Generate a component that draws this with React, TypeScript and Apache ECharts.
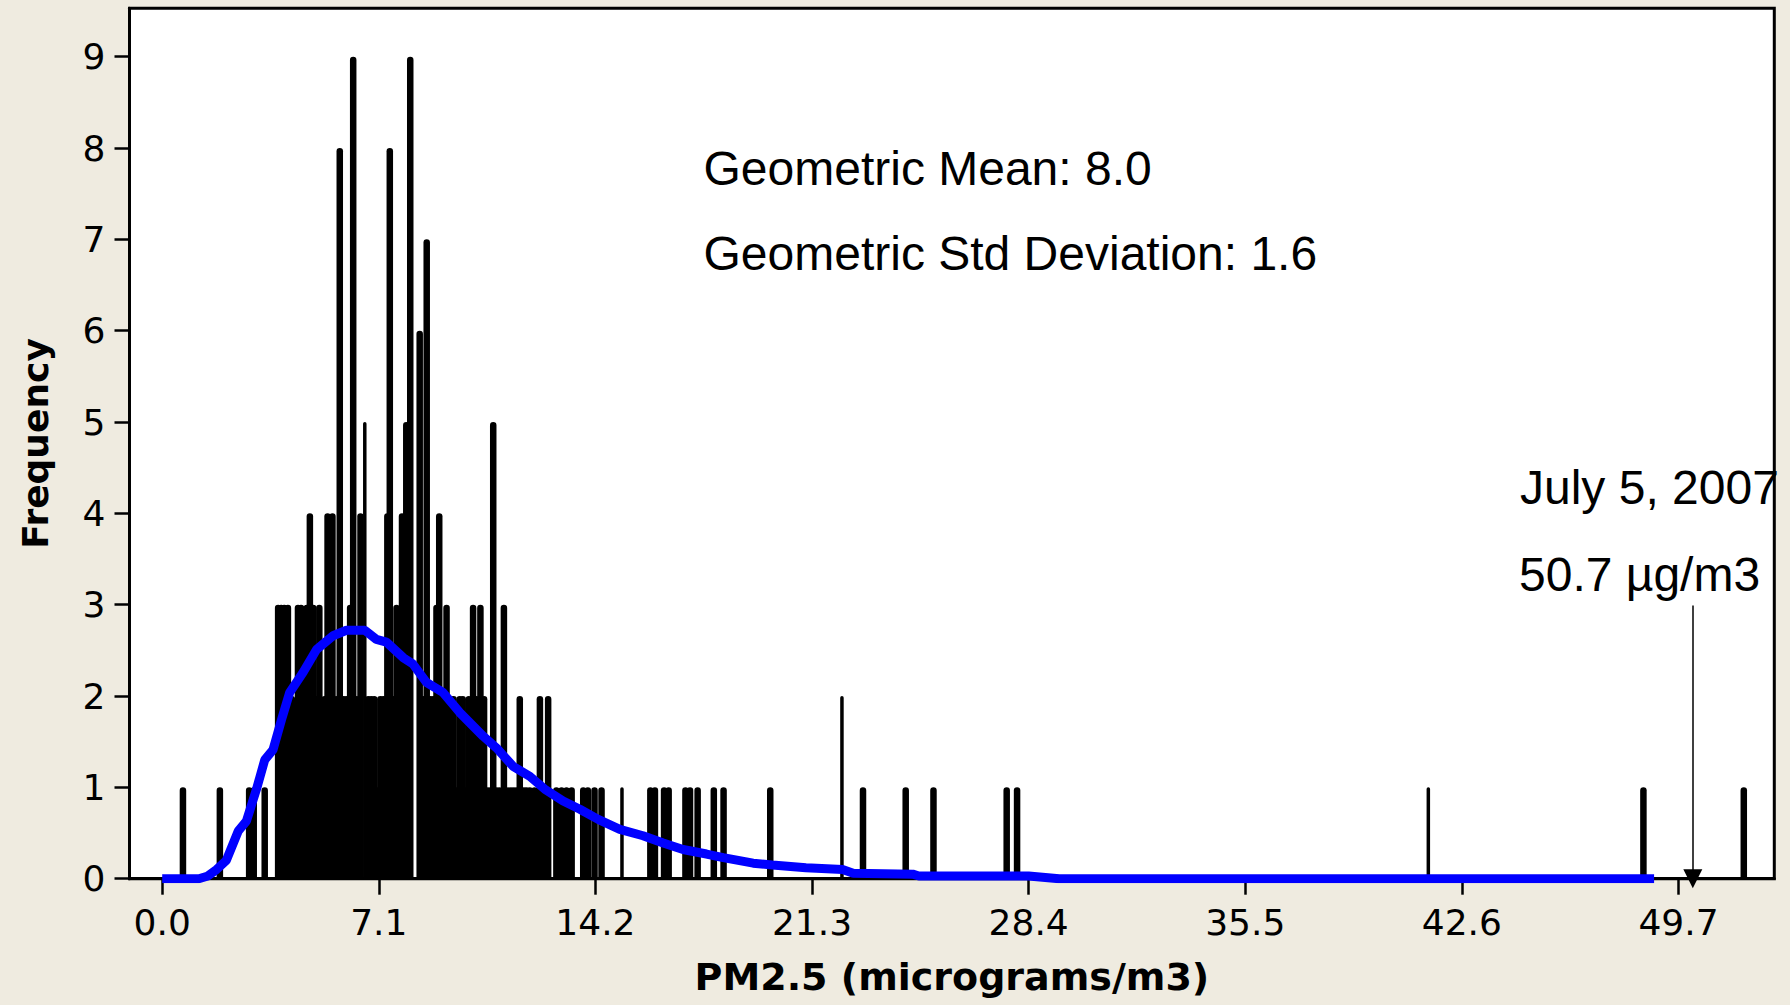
import React, { useEffect, useRef } from "react";
import * as echarts from "echarts";

// ---- data ----
const xTickValues = [0, 7.1, 14.2, 21.3, 28.4, 35.5, 42.6, 49.7];
const yTickValues = [0, 1, 2, 3, 4, 5, 6, 7, 8, 9];

// PM2.5 values (µg/m3) and how often each occurred (wide bars)
const pmValues = [
  0.68, 1.89, 2.85, 3.0, 3.36, 3.8, 3.9, 4.0, 4.12, 4.25, 4.35, 4.45, 4.55, 4.65, 4.74, 4.84, 4.95,
  5.05, 5.15, 5.25, 5.32, 5.42, 5.58, 5.7, 5.82, 5.95, 6.05, 6.16, 6.26, 6.38, 6.5, 6.75, 6.85,
  6.95, 7.05, 7.15, 7.25, 7.38, 7.46, 7.57, 7.68, 7.78, 7.86, 8.0, 8.13, 8.44, 8.55, 8.67, 8.78,
  8.88, 8.99, 9.08, 9.18, 9.32, 9.45, 9.55, 9.65, 9.75, 9.85, 9.95, 10.05, 10.19, 10.3, 10.43,
  10.55, 10.65, 10.75, 10.85, 10.95, 11.05, 11.2, 11.3, 11.4, 11.5, 11.6, 11.72, 11.85, 11.94,
  12.05, 12.2, 12.38, 12.5, 12.65, 12.92, 13.09, 13.25, 13.42, 13.8, 13.95, 14.17, 14.4, 16.0,
  16.15, 16.45, 16.6, 17.15, 17.3, 17.55, 18.08, 18.4, 19.93, 22.97, 24.37, 25.28, 27.68, 28.02,
  48.55, 51.84,
];
const frequencies = [
  1, 1, 1, 1, 1, 3, 3, 3, 3, 2, 1, 3, 3, 2, 3, 4, 3,
  2, 3, 1, 2, 4, 4, 2, 8, 2, 2, 3, 9, 2, 4, 2, 2,
  2, 1, 2, 2, 4, 8, 2, 3, 2, 4, 5, 9, 6, 2, 7, 2,
  2, 3, 4, 2, 3, 2, 2, 1, 2, 2, 1, 2, 3, 2, 3,
  2, 1, 1, 5, 1, 1, 3, 1, 1, 1, 1, 2, 1, 1,
  1, 1, 2, 1, 2, 1, 1, 1, 1, 1, 1, 1, 1, 1,
  1, 1, 1, 1, 1, 1, 1, 1, 1, 1, 1, 1, 1, 1,
  1, 1,
];
// values drawn as thin bars in the reference
const thinValues = [6.64, 15.07, 22.28, 41.5];
const thinFrequencies = [5, 1, 2, 1];

// fitted frequency curve (blue)
const curveX = [
  0, 1.2, 1.5, 1.78, 2.1, 2.49, 2.76, 3.09, 3.36, 3.63, 3.91, 4.18, 4.62, 5.06, 5.6, 6.04, 6.64,
  7.02, 7.35, 7.9, 8.22, 8.66, 9.2, 9.75, 10.52, 10.96, 11.5, 12.05, 12.54, 13.14, 13.69, 14.29,
  15.0, 15.76, 16.42, 17.07, 17.84, 18.39, 19.37, 20.0, 21.1, 22.3, 22.65, 24.6, 24.8, 28.4, 29.4,
  48.9,
];
const curveY = [
  0, 0, 0.03, 0.1, 0.2, 0.52, 0.63, 0.98, 1.3, 1.41, 1.74, 2.04, 2.26, 2.51, 2.66, 2.72, 2.72,
  2.62, 2.59, 2.42, 2.35, 2.15, 2.04, 1.82, 1.56, 1.43, 1.23, 1.12, 0.98, 0.85, 0.76, 0.65,
  0.54, 0.47, 0.39, 0.32, 0.27, 0.23, 0.17, 0.15, 0.12, 0.1, 0.06, 0.05, 0.03, 0.03, 0,
  0,
];

const statLines = ["Geometric Mean: 8.0", "Geometric Std Deviation: 1.6"];
const eventLines = ["July 5, 2007", "50.7 \u00b5g/m3"];
const eventValue = 50.17;
const eventArrowTop = 2.99;

const BG = "#EFEBE0";
const TICK_FONT = '"DejaVu Sans", Verdana, sans-serif';
const NOTE_FONT = '"Liberation Sans", Arial, sans-serif';

function barRenderer(width: number) {
  return (params: any, api: any) => {
    const x = api.value(0);
    const y = api.value(1);
    const top = api.coord([x, y]);
    const base = api.coord([x, 0]);
    return {
      type: "rect",
      shape: {
        x: top[0] - width / 2,
        y: top[1],
        width,
        height: base[1] - top[1],
        r: [width / 2, width / 2, 0, 0],
      },
      style: { fill: "#000" },
    };
  };
}

export default function App() {
  const ref = useRef<HTMLDivElement>(null);

  useEffect(() => {
    if (!ref.current) return;
    const chart = echarts.init(ref.current, undefined, { renderer: "svg" });

    const noteStyle = {
      fontFamily: NOTE_FONT,
      fontSize: 48,
      fill: "#000",
      verticalAlign: "middle",
    };

    const option: any = {
      animation: false,
      backgroundColor: BG,
      grid: {
        left: 129.5,
        top: 8.3,
        right: 15.7,
        bottom: 126.3,
        show: true,
        backgroundColor: "#FFFFFF",
        borderColor: "#000",
        borderWidth: 3,
        containLabel: false,
      },
      xAxis: {
        type: "value",
        min: -1.072,
        max: 52.84,
        name: "PM2.5 (micrograms/m3)",
        nameLocation: "middle",
        nameGap: 79,
        nameTextStyle: {
          fontFamily: TICK_FONT,
          fontWeight: "bold",
          fontSize: 38,
          color: "#000",
        },
        axisLine: { show: true, onZero: false, lineStyle: { color: "#000", width: 3 } },
        axisTick: {
          show: true,
          length: 16,
          customValues: xTickValues,
          lineStyle: { color: "#000", width: 2.5 },
        },
        axisLabel: {
          customValues: xTickValues,
          formatter: (v: number) => v.toFixed(1),
          fontFamily: TICK_FONT,
          fontSize: 36,
          color: "#000",
          margin: 26,
        },
        splitLine: { show: false },
      },
      yAxis: {
        type: "value",
        min: 0,
        max: 9.53,
        name: "Frequency",
        nameLocation: "middle",
        nameGap: 76,
        nameTextStyle: {
          fontFamily: TICK_FONT,
          fontWeight: "bold",
          fontSize: 36,
          color: "#000",
        },
        axisLine: { show: true, onZero: false, lineStyle: { color: "#000", width: 3 } },
        axisTick: {
          show: true,
          length: 15,
          customValues: yTickValues,
          lineStyle: { color: "#000", width: 2.5 },
        },
        axisLabel: {
          customValues: yTickValues,
          fontFamily: TICK_FONT,
          fontSize: 36,
          color: "#000",
          margin: 24,
        },
        splitLine: { show: false },
      },
      series: [
        {
          type: "custom",
          name: "Frequency",
          renderItem: barRenderer(6.5),
          data: pmValues.map((v, i) => [v, frequencies[i]]),
          z: 2,
        },
        {
          type: "custom",
          name: "Frequency (thin)",
          renderItem: barRenderer(3.5),
          data: thinValues.map((v, i) => [v, thinFrequencies[i]]),
          z: 2,
        },
        {
          type: "line",
          name: "Fit",
          data: curveX.map((v, i) => [v, curveY[i]]),
          showSymbol: false,
          symbol: "none",
          smooth: false,
          lineStyle: { color: "#0000FF", width: 9 },
          z: 5,
          markLine: {
            silent: true,
            symbol: ["none", "triangle"],
            symbolSize: 19,
            label: { show: false },
            lineStyle: { color: "#000", width: 1.5, type: "solid" },
            itemStyle: { color: "#000" },
            data: [[{ coord: [eventValue, eventArrowTop] }, { coord: [eventValue, 0] }]],
          },
        },
      ],
      graphic: [
        { type: "text", x: 703.5, y: 168, style: { ...noteStyle, text: statLines[0] } },
        { type: "text", x: 703.5, y: 253.5, style: { ...noteStyle, text: statLines[1] } },
        { type: "text", x: 1520, y: 487.5, style: { ...noteStyle, text: eventLines[0] } },
        { type: "text", x: 1519, y: 574, style: { ...noteStyle, text: eventLines[1] } },
      ],
    };

    chart.setOption(option);
    return () => chart.dispose();
  }, []);

  return (
    <div
      ref={ref}
      style={{ position: "fixed", left: 0, top: 0, width: 1790, height: 1005, background: BG }}
    />
  );
}
